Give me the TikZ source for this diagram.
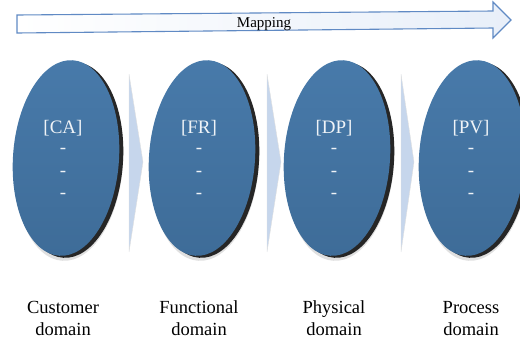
\documentclass[tikz,border=0pt]{standalone}
\usepackage{fontspec}
\setmainfont{Liberation Serif}
\usetikzlibrary{shapes.geometric}
\definecolor{ellblue}{RGB}{62,108,152}
\definecolor{ellblueL}{RGB}{72,122,170}
\definecolor{chev}{RGB}{198,214,236}
\definecolor{arrline}{RGB}{96,138,196}
\definecolor{arrfill}{RGB}{232,239,249}
\tikzset{
  ellbase/.style={ellipse, minimum width=106pt, minimum height=196pt, inner sep=0pt, draw=none},
  domainell/.style={ellbase, top color=ellblueL, bottom color=ellblue},
  shadowell/.style={ellbase, fill=black!85},
  softshadow/.style={ellbase, minimum width=108pt, minimum height=198pt, fill=black!12},
  chevronfill/.style={fill=chev, draw=black!12, line width=0.4pt},
  intext/.style={text=white!92!ellblue, font=\fontsize{19}{22}\selectfont, anchor=base, inner sep=0pt},
  dashtext/.style={text=white!92!ellblue, font=\fontsize{19}{22}\selectfont, anchor=base, inner sep=0pt},
  labeltext/.style={font=\fontsize{18.5}{22}\selectfont, anchor=base, inner sep=0pt},
  maptext/.style={font=\fontsize{15}{18}\selectfont, anchor=base, inner sep=0pt}
}
\begin{document}
\begin{tikzpicture}[x=1pt,y=-1pt]
\useasboundingbox (0,0) rectangle (520,341);
% mapping arrow
\coordinate (a1) at (17,15);
\coordinate (a2) at (493,11);
\coordinate (a3) at (493,2);
\coordinate (a4) at (511,20);
\coordinate (a5) at (493,38);
\coordinate (a6) at (493,28);
\coordinate (a7) at (17,33);
\draw[draw=arrline, line width=1.1pt, line join=miter, left color=white, right color=arrfill]
  (a1) -- (a2) -- (a3) -- (a4) -- (a5) -- (a6) -- (a7) -- cycle;
\node[maptext] (map) at (264,27) {Mapping};
% chevrons
\foreach \cx/\tx [count=\i] in {129/143, 267/281, 401/414}{
  \coordinate (c\i t) at (\cx,74);
  \coordinate (c\i p) at (\tx,162);
  \coordinate (c\i b) at (\cx,252);
  \filldraw[chevronfill] (c\i t) -- (c\i p) -- (c\i b) -- cycle;
}
% ellipses
\foreach \ex/\tx/\lab/\la/\lb [count=\i] in {66/63/CA/Customer/domain, 202/199/FR/Functional/domain, 337/334/DP/Physical/domain, 472/471/PV/Process/domain}{
  \node[softshadow, rotate=-4] (s\i) at (\ex+3,162) {};
  \node[shadowell, rotate=-4] (k\i) at (\ex+4,160) {};
  \node[domainell, rotate=-4] (e\i) at (\ex,158) {};
  \node[intext] (t\i) at (\tx,133) {[\lab]};
  \node[dashtext] (d\i a) at (\tx,153.5) {-};
  \node[dashtext] (d\i b) at (\tx,176) {-};
  \node[dashtext] (d\i c) at (\tx,198.5) {-};
  \node[labeltext] (l\i a) at (\tx,313) {\la};
  \node[labeltext] (l\i b) at (\tx,335) {\lb};
}
\end{tikzpicture}
\end{document}
